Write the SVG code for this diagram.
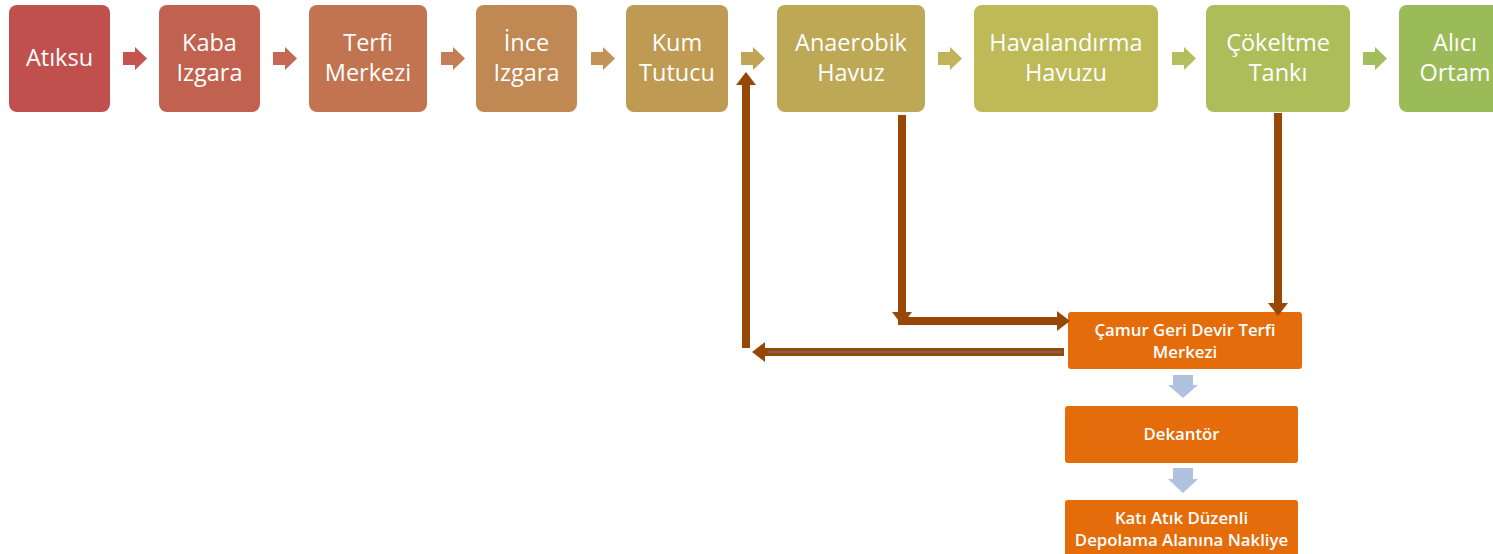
<svg xmlns="http://www.w3.org/2000/svg" width="1493" height="554" viewBox="0 0 1493 554">
  <defs>
    <style>
      .box { stroke: none; }
      .t1 { font-family: "Open Sans", "Liberation Sans", sans-serif; font-size: 23.5px; fill: #ffffff; text-anchor: middle; }
      .t2 { font-family: "Open Sans", "Liberation Sans", sans-serif; font-size: 16.8px; font-weight: 600; fill: #ffffff; text-anchor: middle; }
      .orange { fill: #E46C0A; }
      .flow { stroke: #974806; stroke-width: 8; fill: none; }
      .blue { fill: #B0C2DF; }
    </style>
    <marker id="brownHead" markerUnits="userSpaceOnUse" markerWidth="14" markerHeight="20" refX="0" refY="10" orient="auto" overflow="visible">
      <path d="M0,0 L13,10 L0,20 Z" fill="#974806"/>
    </marker>
  </defs>

  <!-- main process chain -->
  <g id="atiksu">
    <rect class="box" x="9" y="5" width="101" height="107" rx="8" fill="#C0504D"/>
    <text class="t1" x="59.5" y="66">Atıksu</text>
  </g>
  <g id="kaba-izgara">
    <rect class="box" x="159" y="5" width="101" height="107" rx="8" fill="#C0624F"/>
    <text class="t1" x="209.5" y="51">Kaba</text>
    <text class="t1" x="209.5" y="81">Izgara</text>
  </g>
  <g id="terfi-merkezi">
    <rect class="box" x="309" y="5" width="118" height="107" rx="8" fill="#C1744F"/>
    <text class="t1" x="368" y="51">Terfi</text>
    <text class="t1" x="368" y="81">Merkezi</text>
  </g>
  <g id="ince-izgara">
    <rect class="box" x="476" y="5" width="101" height="107" rx="8" fill="#C08852"/>
    <text class="t1" x="526.5" y="51">İnce</text>
    <text class="t1" x="526.5" y="81">Izgara</text>
  </g>
  <g id="kum-tutucu">
    <rect class="box" x="626" y="5" width="102" height="107" rx="8" fill="#BE9A53"/>
    <text class="t1" x="677" y="51">Kum</text>
    <text class="t1" x="677" y="81">Tutucu</text>
  </g>
  <g id="anaerobik-havuz">
    <rect class="box" x="777" y="5" width="148" height="107" rx="8" fill="#BDA855"/>
    <text class="t1" x="851" y="51">Anaerobik</text>
    <text class="t1" x="851" y="81">Havuz</text>
  </g>
  <g id="havalandirma-havuzu">
    <rect class="box" x="974" y="5" width="184" height="107" rx="8" fill="#BDBA57"/>
    <text class="t1" x="1066" y="51">Havalandırma</text>
    <text class="t1" x="1066" y="81">Havuzu</text>
  </g>
  <g id="cokeltme-tanki">
    <rect class="box" x="1206" y="5" width="144" height="107" rx="8" fill="#ADBD5A"/>
    <text class="t1" x="1278" y="51">Çökeltme</text>
    <text class="t1" x="1278" y="81">Tankı</text>
  </g>
  <g id="alici-ortam">
    <rect class="box" x="1399" y="5" width="112" height="107" rx="8" fill="#9BBB59"/>
    <text class="t1" x="1455" y="51">Alıcı</text>
    <text class="t1" x="1455" y="81">Ortam</text>
  </g>

  <!-- sludge line -->
  <g id="camur-geri-devir">
    <rect class="orange" x="1068" y="312" width="234" height="57" rx="3"/>
    <text class="t2" x="1185" y="336">Çamur Geri Devir Terfi</text>
    <text class="t2" x="1185" y="358">Merkezi</text>
  </g>
  <g id="dekantor">
    <rect class="orange" x="1065" y="406" width="233" height="57" rx="3"/>
    <text class="t2" x="1181.5" y="440">Dekantör</text>
  </g>
  <g id="kati-atik">
    <rect class="orange" x="1065" y="500" width="233" height="60" rx="3"/>
    <text class="t2" x="1181.5" y="524">Katı Atık Düzenli</text>
    <text class="t2" x="1181.5" y="546">Depolama Alanına Nakliye</text>
  </g>

  <g id="connectors">
    <!-- block arrows between the main steps -->
    <polygon points="123,52 135,52 135,47 147,58.5 135,70 135,65 123,65" fill="#C55451"/>
    <polygon points="273,52 285,52 285,47 297,58.5 285,70 285,65 273,65" fill="#C46753"/>
    <polygon points="441,52 453,52 453,47 465,58.5 453,70 453,65 441,65" fill="#C47E55"/>
    <polygon points="591,52 603,52 603,47 615,58.5 603,70 603,65 591,65" fill="#C29257"/>
    <polygon points="741,52 753,52 753,47 765,58.5 753,70 753,65 741,65" fill="#C1A457"/>
    <polygon points="938,52 950,52 950,47 962,58.5 950,70 950,65 938,65" fill="#C0B35A"/>
    <polygon points="1172,52 1184,52 1184,47 1196,58.5 1184,70 1184,65 1172,65" fill="#B3BF5D"/>
    <polygon points="1363,52 1375,52 1375,47 1387,58.5 1375,70 1375,65 1363,65" fill="#A2BE5D"/>

    <!-- sludge piping -->
    <line class="flow" x1="902" y1="115" x2="902" y2="312" marker-end="url(#brownHead)"/>
    <line class="flow" x1="898" y1="321" x2="1057" y2="321" marker-end="url(#brownHead)"/>
    <line class="flow" x1="1278" y1="113" x2="1278" y2="303" marker-end="url(#brownHead)"/>
    <line class="flow" x1="1064" y1="352" x2="765" y2="352" marker-end="url(#brownHead)"/>
    <line x1="1062" y1="352" x2="768" y2="352" stroke="#7A6A86" stroke-width="1.5"/>
    <line class="flow" x1="746" y1="348" x2="746" y2="85" marker-end="url(#brownHead)"/>

    <!-- sludge treatment steps -->
    <polygon class="blue" points="1173,375 1193,375 1193,385 1198,385 1183,398 1168,385 1173,385"/>
    <polygon class="blue" points="1173,468 1193,468 1193,479 1198,479 1183,493 1168,479 1173,479"/>
  </g>
</svg>
